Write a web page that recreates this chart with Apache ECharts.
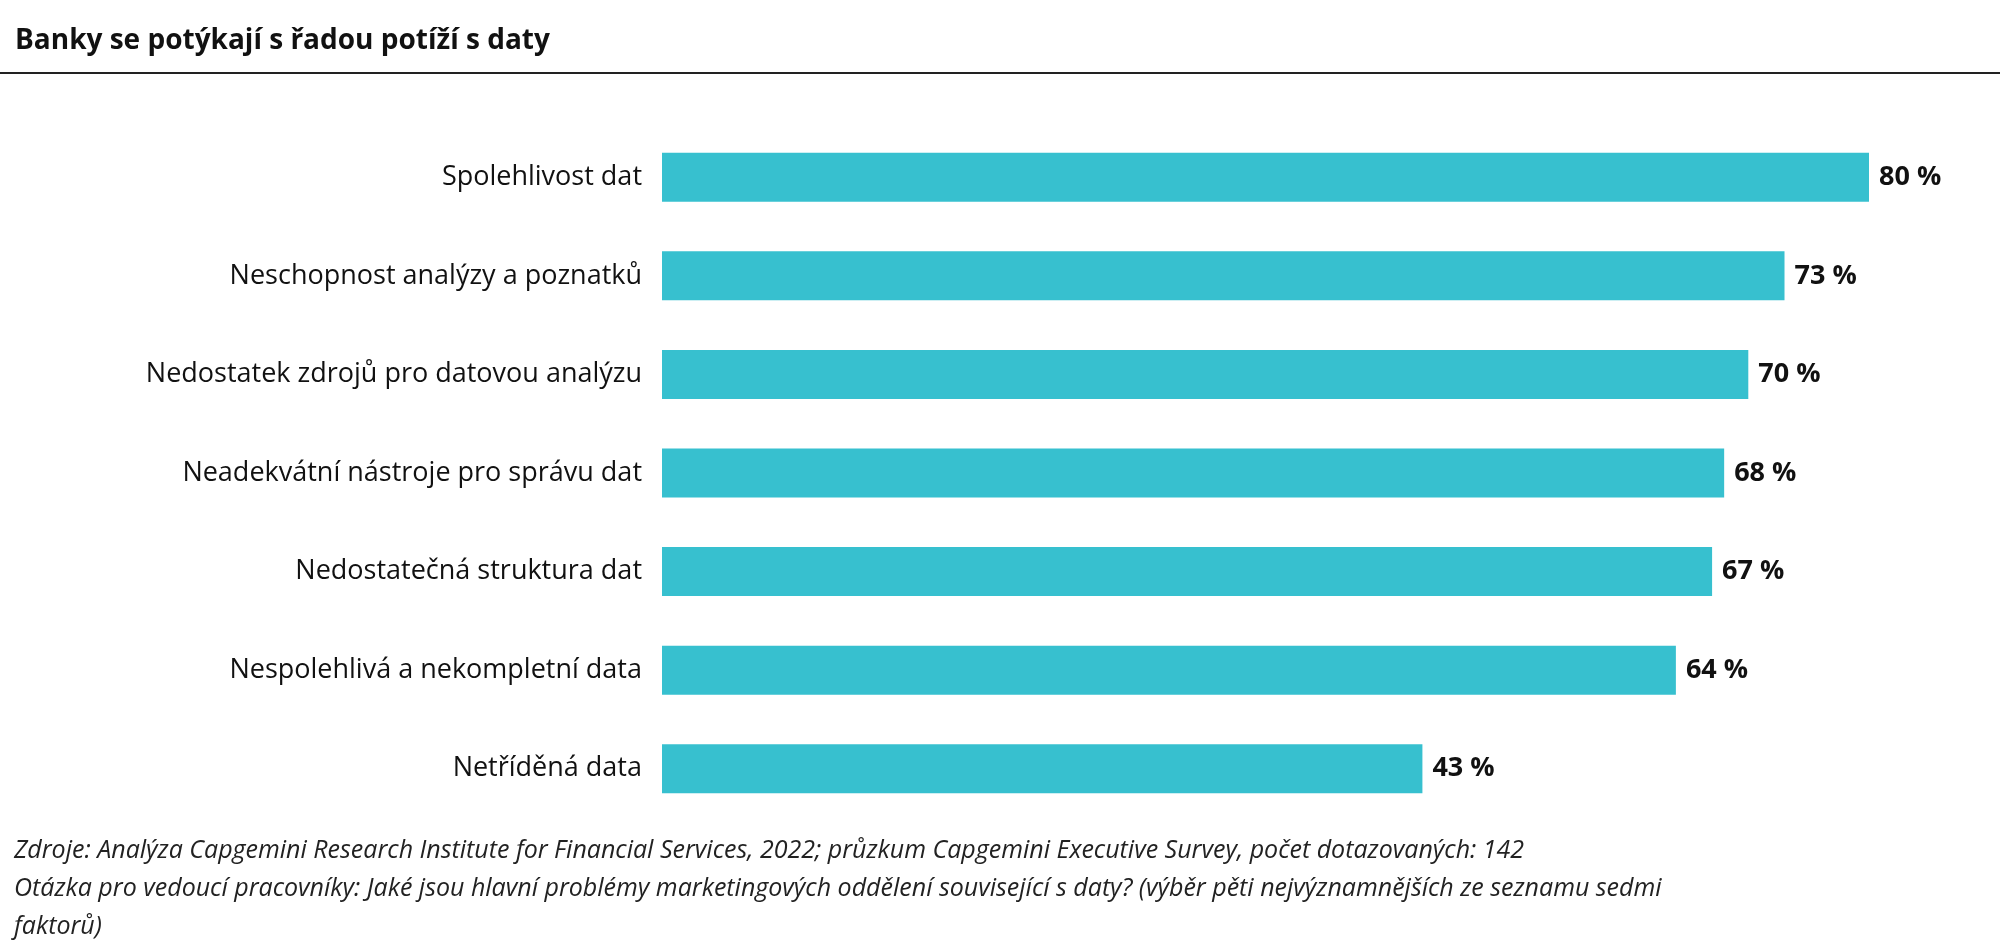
<!DOCTYPE html>
<html><head><meta charset="utf-8">
<script src="https://cdn.jsdelivr.net/npm/echarts@6/dist/echarts.min.js"></script>
<style>body{margin:0}#main{width:2000px;height:952px}</style></head>
<body><div id="main"></div>
<script>
const categories = ['Spolehlivost dat','Neschopnost analýzy a poznatků','Nedostatek zdrojů pro datovou analýzu','Neadekvátní nástroje pro správu dat','Nedostatečná struktura dat','Nespolehlivá a nekompletní data','Netříděná data'];
const values = [80, 73, 70, 68, 67, 64, 43];
// the original axis starts at -20, so bars are drawn from there
const axisStart = -20;

const chart = echarts.init(document.getElementById('main'));
const font = '"Open Sans", sans-serif';
chart.setOption({
  animation: false,
  title: { text: 'Banky se potýkají s řadou potíží s daty', left: 10, top: 22,
    textStyle: { fontFamily: font, fontSize: 28, fontWeight: 'bold', color: '#111' } },
  graphic: [
    { type: 'line', shape: { x1: 0, y1: 73, x2: 2000, y2: 73 }, style: { stroke: '#222', lineWidth: 2 } },
    { type: 'text', left: 14, top: 832, style: { fontFamily: font, fontSize: 25, fontStyle: 'italic', fill: '#222', lineHeight: 38,
      text: 'Zdroje: Analýza Capgemini Research Institute for Financial Services, 2022; průzkum Capgemini Executive Survey, počet dotazovaných: 142\nOtázka pro vedoucí pracovníky: Jaké jsou hlavní problémy marketingových oddělení související s daty? (výběr pěti nejvýznamnějších ze seznamu sedmi\nfaktorů)' } }
  ],
  grid: { left: 662, right: 131, top: 128, bottom: 134 },
  xAxis: { type: 'value', min: 0, max: 100, show: false },
  yAxis: { type: 'category', inverse: true, data: categories,
    axisLine: { show: false }, axisTick: { show: false },
    axisLabel: { fontFamily: font, fontSize: 27, color: '#111', margin: 20 } },
  series: [{
    type: 'bar', barWidth: 49,
    data: values.map(v => v - axisStart),
    itemStyle: { color: '#37c0cf' },
    label: { show: true, position: 'right', distance: 10, fontFamily: font, fontSize: 27, fontWeight: 'bold', color: '#111',
      formatter: p => values[p.dataIndex] + ' %' }
  }]
});
</script></body></html>
